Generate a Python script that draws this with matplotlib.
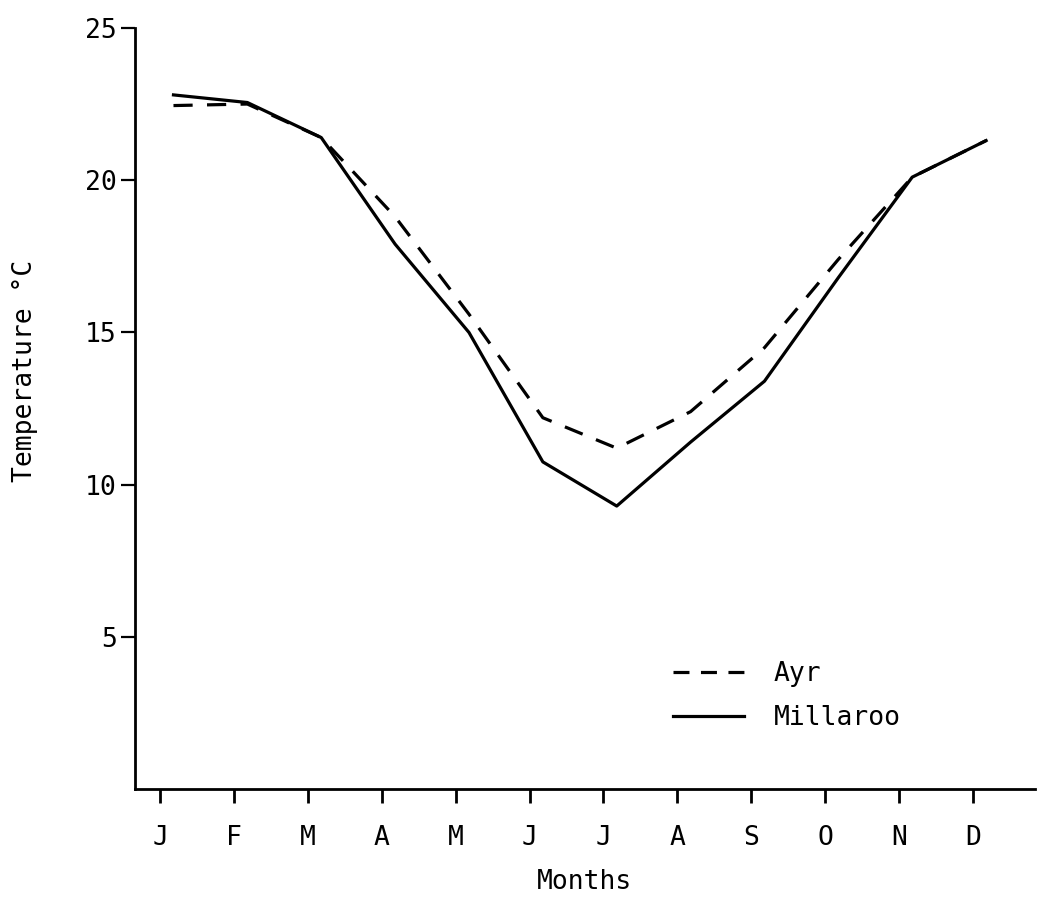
import matplotlib
matplotlib.use("Agg")
import matplotlib.pyplot as plt
from matplotlib.lines import Line2D
import numpy as np

months = ["J", "F", "M", "A", "M", "J", "J", "A", "S", "O", "N", "D"]
ayr = [22.45, 22.5, 21.4, 18.8, 15.6, 12.2, 11.2, 12.4, 14.5, 17.4, 20.1, 21.3]
millaroo = [22.8, 22.55, 21.4, 17.9, 15.0, 10.75, 9.3, 11.4, 13.4, 16.8, 20.1, 21.3]
yticks = [5, 10, 15, 20, 25]

FONT = "DejaVu Sans Mono"
plt.rcParams["font.family"] = [FONT]
FS = 19

fig = plt.figure(figsize=(10.39, 9.0), dpi=100)
ax = fig.add_axes([0.130, 0.123, 0.866, 0.846])

x_ticks = np.arange(len(months))
x_pts = x_ticks + 0.18

ax.plot(x_pts, ayr, color="black", lw=2.3, linestyle=(0, (6, 4.5)), label="Ayr")
ax.plot(x_pts, millaroo, color="black", lw=2.3, linestyle="-", label="Millaroo")

ax.set_xlim(-0.34, 11.84)
ax.set_ylim(0, 25)
ax.set_xticks(x_ticks)
ax.set_xticklabels(months)
ax.set_yticks(yticks)
ax.set_yticklabels([str(v) for v in yticks])

for s in ["top", "right"]:
    ax.spines[s].set_visible(False)
for s in ["left", "bottom"]:
    ax.spines[s].set_linewidth(2.0)

ax.tick_params(axis="x", direction="out", length=10, width=2.0, pad=16, labelsize=FS)
ax.tick_params(axis="y", direction="out", length=10, width=1.6, pad=3, labelsize=FS)

ax.set_xlabel("Months", fontsize=FS, labelpad=13)
ax.set_ylabel("Temperature \u00b0C", fontsize=FS)
ax.yaxis.set_label_coords(-0.108, 0.55)

ax.legend(handles=[Line2D([], [], color="black", lw=2.3, linestyle=(0, (5, 3.6))),
                   Line2D([], [], color="black", lw=2.3)],
          labels=["Ayr", "Millaroo"], frameon=False, fontsize=FS,
          loc="upper left", bbox_to_anchor=(0.572, 0.2),
          handlelength=2.69, handletextpad=1.1, labelspacing=0.7)

fig.savefig("out.png", dpi=100, facecolor="white")
